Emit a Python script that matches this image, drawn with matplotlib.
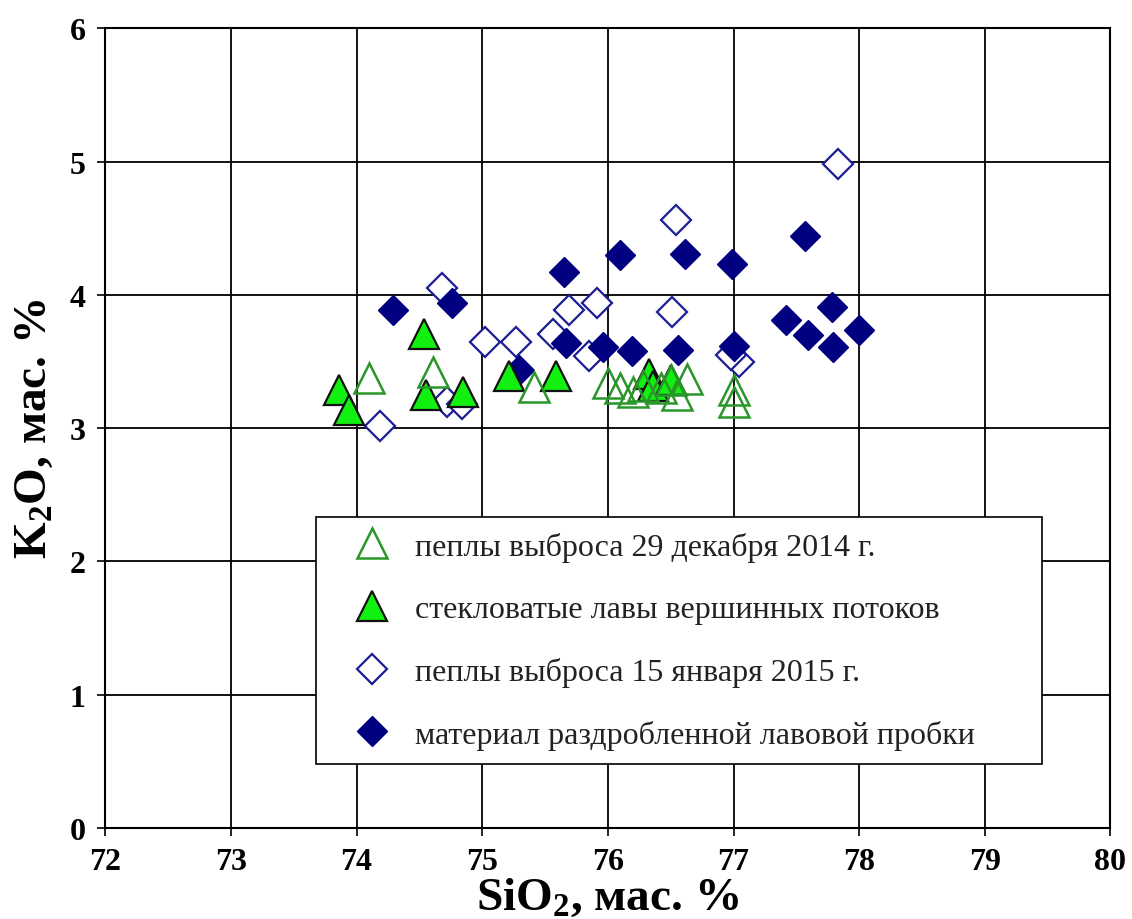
import matplotlib
matplotlib.use('Agg')
import matplotlib.pyplot as plt

plt.rcParams['font.family'] = ['Liberation Serif', 'DejaVu Serif']
plt.rcParams['mathtext.fontset'] = 'custom'
plt.rcParams['mathtext.rm'] = 'Liberation Serif:bold'
plt.rcParams['mathtext.bf'] = 'Liberation Serif:bold'

# пеплы выброса 29 декабря 2014 г. (open triangles)
ash2014_si = [74.10, 74.61, 75.41, 76.00, 76.10, 76.20, 76.28, 76.42, 76.50, 76.55, 76.63, 77.00, 77.00]
ash2014_k = [3.38, 3.42, 3.31, 3.34, 3.30, 3.27, 3.32, 3.30, 3.36, 3.25, 3.37, 3.29, 3.20]

# стекловатые лавы вершинных потоков (filled triangles)
lava_si = [73.86, 73.94, 74.54, 74.55, 74.85, 75.21, 75.59, 76.33, 76.36, 76.50]
lava_k = [3.29, 3.14, 3.71, 3.25, 3.27, 3.39, 3.39, 3.41, 3.32, 3.36]

# пеплы выброса 15 января 2015 г. (open diamonds)
ash2015_si = [74.19, 74.68, 74.72, 74.84, 75.02, 75.27, 75.56, 75.69, 75.91, 75.85,
              76.51, 76.54, 77.83, 77.04, 76.98]
ash2015_k = [3.02, 4.05, 3.20, 3.18, 3.65, 3.65, 3.71, 3.89, 3.94, 3.54,
             3.87, 4.56, 4.98, 3.50, 3.55]

# материал раздробленной лавовой пробки (filled diamonds)
plug_si = [74.29, 74.76, 75.29, 75.65, 75.67, 75.96, 76.10, 76.19, 76.56, 76.61,
           76.99, 77.00, 77.42, 77.57, 77.59, 77.78, 77.79, 78.00]
plug_k = [3.89, 3.94, 3.44, 4.17, 3.64, 3.61, 4.30, 3.58, 3.59, 4.31,
          4.23, 3.62, 3.81, 4.44, 3.70, 3.91, 3.61, 3.74]

fig = plt.figure(figsize=(11.32, 9.2), dpi=100)
ax = fig.add_axes([0.093, 0.099, 0.888, 0.869])

ax.plot(ash2015_si, ash2015_k, 'D', ms=15, mfc='white', mec='#1c1c94', mew=1.6,
        ls='none', zorder=3, label='пеплы выброса 15 января 2015 г.')
ax.plot(plug_si, plug_k, 'D', ms=15, mfc='#000080', mec='#000080', mew=1,
        ls='none', zorder=4, label='материал раздробленной лавовой пробки')
ax.plot(lava_si, lava_k, '^', ms=21, mfc='#12f012', mec='#111111', mew=1.6,
        ls='none', zorder=5, label='стекловатые лавы вершинных потоков')
ax.plot(ash2014_si, ash2014_k, '^', ms=22, mfc='none', mec='#2a962a', mew=1.8,
        ls='none', zorder=6, label='пеплы выброса 29 декабря 2014 г.')

ax.set_xlim(72, 80)
ax.set_ylim(0, 6)
ax.set_xticks(range(72, 81))
ax.set_yticks(range(0, 7))
ax.grid(True, color='black', lw=1.3)
ax.set_axisbelow(True)
for s in ax.spines.values():
    s.set_linewidth(1.5)
ax.tick_params(direction='out', length=6, width=1.2, labelsize=23, pad=8)
for lab in ax.get_xticklabels() + ax.get_yticklabels():
    lab.set_fontweight('bold')

ax.set_xlabel('SiO$\\mathregular{_2}$, мас. %', fontsize=34, fontweight='bold', labelpad=0)
ax.set_ylabel('K$\\mathregular{_2}$O, мас. %', fontsize=34, fontweight='bold', labelpad=10)

h, l = ax.get_legend_handles_labels()
order = [3, 2, 0, 1]
leg = ax.legend([h[i] for i in order], [l[i] for i in order],
                loc='lower left', bbox_to_anchor=(0.21, 0.08, 0.722, 0.31),
                mode='expand', fontsize=23, frameon=True, fancybox=False,
                framealpha=1, edgecolor='black', labelspacing=1.03, borderpad=0.45,
                handlelength=2.6, handletextpad=0.05, borderaxespad=0)
leg.get_frame().set_linewidth(1.2)
leg.set_zorder(10)
for t in leg.get_texts():
    t.set_color('#222222')

fig.savefig('out.png', dpi=100)
